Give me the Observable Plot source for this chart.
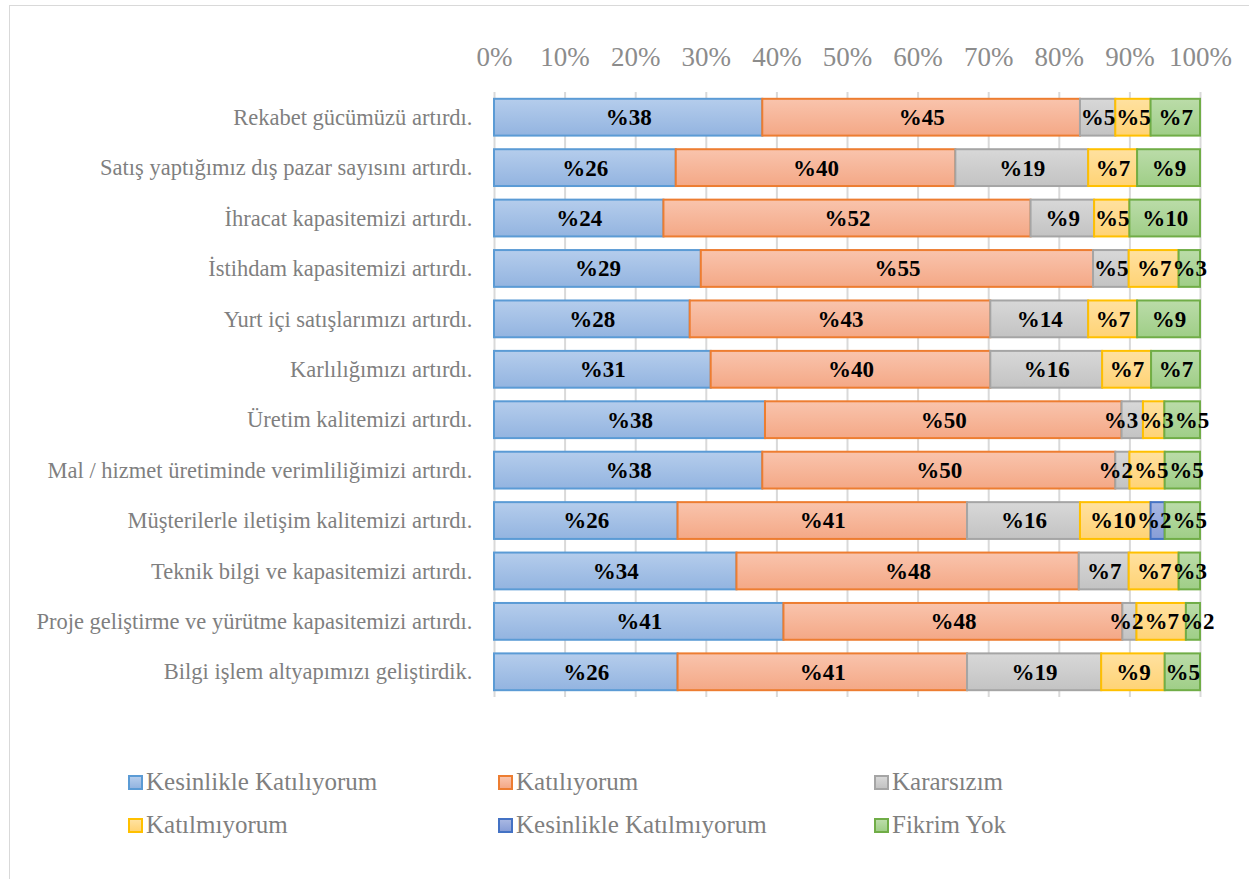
<!DOCTYPE html>
<html>
<head>
<meta charset="utf-8">
<script src="https://cdn.jsdelivr.net/npm/d3@7"></script>
<script src="https://cdn.jsdelivr.net/npm/@observablehq/plot@0.6"></script>
<style>
  html, body { margin: 0; padding: 0; background: #fff; font-family: "Liberation Serif", "DejaVu Serif", serif; }
  #wrap { position: relative; width: 1249px; height: 879px; overflow: hidden; }
  #frame { position: absolute; left: 9px; top: 5px; width: 1250px; height: 890px; border: 1px solid #d9d9d9; box-sizing: border-box; }
  #chart { position: absolute; left: 0; top: 0; }
  .leg { position: absolute; font-family: "Liberation Serif", "DejaVu Serif", serif; font-size: 25px; color: #7f7f7f; white-space: nowrap; line-height: 28px; }
  .sw { display: inline-block; width: 11px; height: 11px; border: 2px solid; vertical-align: 0px; margin-right: 3px; }
</style>
</head>
<body>
<div id="wrap">
  <div id="frame"></div>
  <div id="chart"></div>
</div>
<script>
const items = [
  "Rekabet gücümüzü artırdı.",
  "Satış yaptığımız dış pazar sayısını artırdı.",
  "İhracat kapasitemizi artırdı.",
  "İstihdam kapasitemizi artırdı.",
  "Yurt içi satışlarımızı artırdı.",
  "Karlılığımızı artırdı.",
  "Üretim kalitemizi artırdı.",
  "Mal / hizmet üretiminde verimliliğimizi artırdı.",
  "Müşterilerle iletişim kalitemizi artırdı.",
  "Teknik bilgi ve kapasitemizi artırdı.",
  "Proje geliştirme ve yürütme kapasitemizi artırdı.",
  "Bilgi işlem altyapımızı geliştirdik."
];
const categories = ["Kesinlikle Katılıyorum", "Katılıyorum", "Kararsızım", "Katılmıyorum", "Kesinlikle Katılmıyorum", "Fikrim Yok"];
const kesinlikleKatiliyorum = [38, 26, 24, 29, 28, 31, 38, 38, 26, 34, 41, 26];
const katiliyorum           = [45, 40, 52, 55, 43, 40, 50, 50, 41, 48, 48, 41];
const kararsizim            = [5, 19, 9, 5, 14, 16, 3, 2, 16, 7, 2, 19];
const katilmiyorum          = [5, 7, 5, 7, 7, 7, 3, 5, 10, 7, 7, 9];
const kesinlikleKatilmiyorum= [0, 0, 0, 0, 0, 0, 0, 0, 2, 0, 0, 0];
const fikrimYok             = [7, 9, 10, 3, 9, 7, 5, 5, 5, 3, 2, 5];
const xTicks = [0, 0.1, 0.2, 0.3, 0.4, 0.5, 0.6, 0.7, 0.8, 0.9, 1];

const series = [kesinlikleKatiliyorum, katiliyorum, kararsizim, katilmiyorum, kesinlikleKatilmiyorum, fikrimYok];
const palette = [
  {top: "#b5cdec", bottom: "#93b4e0", stroke: "#5b9bd5"},
  {top: "#f9c4ad", bottom: "#f4a886", stroke: "#ed7d31"},
  {top: "#d8d8d8", bottom: "#c3c3c3", stroke: "#a5a5a5"},
  {top: "#ffe1a0", bottom: "#ffd375", stroke: "#ffc000"},
  {top: "#a8b7e2", bottom: "#889ed7", stroke: "#4472c4"},
  {top: "#bbdca9", bottom: "#9fce87", stroke: "#70ad47"}
];

const data = [];
items.forEach((it, i) => {
  categories.forEach((c, j) => {
    data.push({item: it, cat: c, value: series[j][i], ci: j});
  });
});

const fillUrl = d => `url(#grad${d.ci})`;

const chart = Plot.plot({
  width: 1249,
  height: 720,
  marginLeft: 494,
  marginRight: 49,
  marginTop: 92,
  marginBottom: 23,
  style: {fontFamily: "'Liberation Serif', 'DejaVu Serif', serif", background: "transparent"},
  x: {domain: [0, 1], axis: null, label: null},
  y: {domain: items, axis: null, label: null, paddingInner: 0.27, paddingOuter: 0.135, round: false},
  marks: [
    Plot.ruleX(xTicks, {x: d => d, stroke: "#d9d9d9", strokeWidth: 2}),
    Plot.axisX(xTicks, {anchor: "top", label: null, tickSize: 0, tickPadding: 27, tickFormat: d => Math.round(d * 100) + "%", fontSize: 27, fill: "#8c8c8c"}),
    Plot.axisY(items, {anchor: "left", label: null, tickSize: 0, tickPadding: 22, fontSize: 22.5, fill: "#7f7f7f"}),
    Plot.barX(data, Plot.stackX({
      filter: d => d.value > 0,
      x: "value", y: "item", z: "cat", order: categories, offset: "normalize",
      fill: fillUrl, stroke: d => palette[d.ci].stroke, strokeWidth: 2
    })),
    Plot.text(data, Plot.stackX({
      filter: d => d.value > 0,
      x: "value", y: "item", z: "cat", order: categories, offset: "normalize",
      text: d => "%" + d.value, fill: "#000", fontSize: 23, fontWeight: "bold"
    }))
  ]
});

// gradients
const ns = "http://www.w3.org/2000/svg";
const defs = document.createElementNS(ns, "defs");
palette.forEach((p, j) => {
  const g = document.createElementNS(ns, "linearGradient");
  g.setAttribute("id", "grad" + j);
  g.setAttribute("x1", "0"); g.setAttribute("y1", "0");
  g.setAttribute("x2", "0"); g.setAttribute("y2", "1");
  const s1 = document.createElementNS(ns, "stop");
  s1.setAttribute("offset", "0"); s1.setAttribute("stop-color", p.top);
  const s2 = document.createElementNS(ns, "stop");
  s2.setAttribute("offset", "1"); s2.setAttribute("stop-color", p.bottom);
  g.appendChild(s1); g.appendChild(s2);
  defs.appendChild(g);
});
chart.insertBefore(defs, chart.firstChild);
document.getElementById("chart").appendChild(chart);

// push apart overlapping data labels within each row
const labelNodes = Array.from(chart.querySelectorAll('g[aria-label="text"] text'));
const rows = new Map();
labelNodes.forEach(t => {
  const b = t.getBBox();
  const ctm = t.getCTM();
  const x = b.x + (ctm ? ctm.e : 0), y = b.y + (ctm ? ctm.f : 0);
  const key = Math.round((y + b.height / 2) / 10);
  if (!rows.has(key)) rows.set(key, []);
  rows.get(key).push({t, x, w: b.width, dx: 0});
});
rows.forEach(list => {
  list.sort((a, b) => a.x - b.x);
  for (let pass = 0; pass < 30; pass++) {
    let moved = false;
    for (let i = 0; i < list.length - 1; i++) {
      const a = list[i], b = list[i + 1];
      const ov = (a.x + a.dx + a.w + 1) - (b.x + b.dx);
      if (ov > 0.1) { a.dx -= ov / 2; b.dx += ov / 2; moved = true; }
    }
    if (!moved) break;
  }
  list.forEach(l => { if (l.dx) l.t.setAttribute("dx", l.dx.toFixed(1)); });
});

// legend
const wrap = document.getElementById("wrap");
const legPos = [[128, 768], [498, 768], [874, 768], [128, 811], [498, 811], [874, 811]];
categories.forEach((c, j) => {
  const el = document.createElement("div");
  el.className = "leg";
  el.style.left = legPos[j][0] + "px";
  el.style.top = legPos[j][1] + "px";
  const sw = document.createElement("span");
  sw.className = "sw";
  sw.style.borderColor = palette[j].stroke;
  sw.style.background = `linear-gradient(${palette[j].top}, ${palette[j].bottom})`;
  el.appendChild(sw);
  el.appendChild(document.createTextNode(c));
  wrap.appendChild(el);
});
</script>
</body>
</html>
